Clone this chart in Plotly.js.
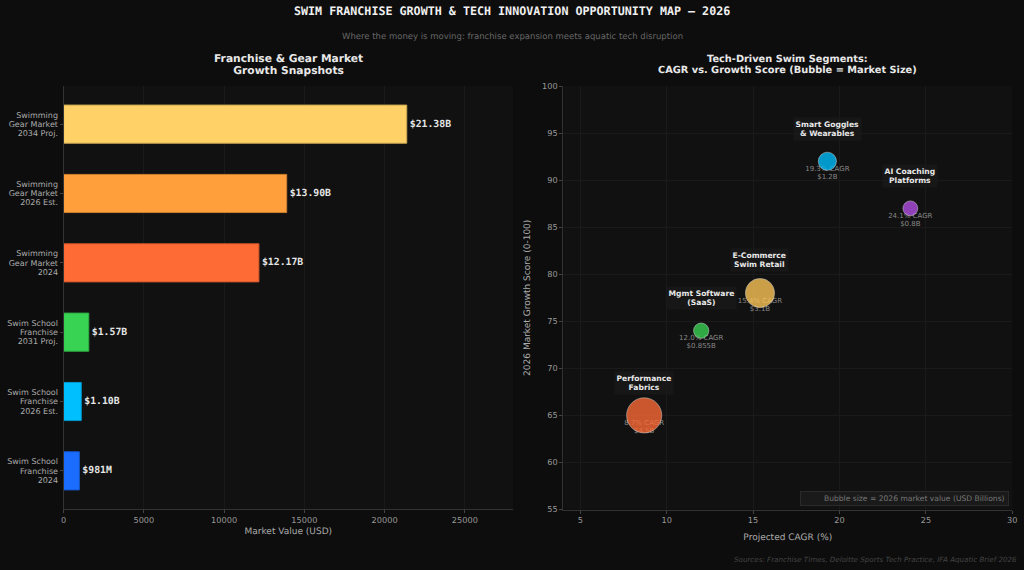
<!DOCTYPE html>
<html><head><meta charset="utf-8">
<script src="https://cdn.plot.ly/plotly-3.0.1.min.js"></script>
<style>html,body{margin:0;padding:0;background:#0d0d0d}#c{width:1024px;height:570px}svg text{text-rendering:geometricPrecision}</style>
</head><body><div id="c"></div>
<script>
// Left panel
const barLabels = ["Swim School<br>Franchise<br>2024","Swim School<br>Franchise<br>2026 Est.","Swim School<br>Franchise<br>2031 Proj.","Swimming<br>Gear Market<br>2024","Swimming<br>Gear Market<br>2026 Est.","Swimming<br>Gear Market<br>2034 Proj."];
const barValues = [981,1100,1570,12170,13900,21380];
const barText = ["$981M","$1.10B","$1.57B","$12.17B","$13.90B","$21.38B"];
const barColors = ["#1a6dff","#00bfff","#39d353","#ff6b35","#ff9f3c","#ffd166"];
const barEdges = ["#1658cc","#0099cc","#2eaa42","#cc562a","#cc7f30","#cca752"];
// Right panel
const segNames = ["Performance<br>Fabrics","Mgmt Software<br>(SaaS)","E-Commerce<br>Swim Retail","Smart Goggles<br>& Wearables","AI Coaching<br>Platforms"];
const segCagr = [8.7,12.0,15.4,19.3,24.1];
const segScore = [65,74,78,92,87];
const segSize = [4.5,0.855,3.1,1.2,0.8];
const segSizeText = ["$4.5B","$0.855B","$3.1B","$1.2B","$0.8B"];
const segColors = ["#ff6b35","#39d353","#ffc857","#00bfff","#b44fe8"];

const sans = "DejaVu Sans", mono = "DejaVu Sans Mono";
const W = 1024, H = 570;
const traces = [
 {type:"bar",orientation:"h",x:barValues,y:barLabels,width:0.55,
  marker:{color:barColors,line:{color:barEdges,width:1}},
  text:barText,textposition:"outside",cliponaxis:false,
  textfont:{family:mono,size:9.8,color:"#e6e6e6",weight:"bold"},xaxis:"x",yaxis:"y",hoverinfo:"skip"},
 {type:"scatter",mode:"text",x:segCagr,y:segScore.map(v=>v-0.42),
  text:segCagr.map((c,i)=>c.toFixed(1)+"% CAGR<br>"+segSizeText[i]),
  textposition:"bottom center",textfont:{family:sans,size:7.0,color:"#888888"},
  xaxis:"x2",yaxis:"y2",hoverinfo:"skip",cliponaxis:false},
 {type:"scatter",mode:"markers",x:segCagr,y:segScore,
  marker:{size:segSize,sizemode:"area",sizeref:2/275,color:segColors,opacity:0.78,
    line:{color:"rgba(255,255,255,0.65)",width:0.8}},
  xaxis:"x2",yaxis:"y2",hoverinfo:"skip"}
];
const axisBase = {showline:true,linecolor:"#333333",linewidth:1,gridcolor:"#1a1a1a",gridwidth:1,
  zeroline:false,ticks:"outside",ticklen:3,tickcolor:"#444444",tickwidth:1,tickformat:"d",
  tickfont:{family:sans,size:8.2,color:"#999999"}};
const layout = {
 width:W,height:H,margin:{l:0,r:0,t:0,b:0,autoexpand:false},
 paper_bgcolor:"#0d0d0d",plot_bgcolor:"#111111",showlegend:false,
 xaxis:Object.assign({},axisBase,{domain:[63.6/W,513/W],range:[0,28000],tickvals:[0,5000,10000,15000,20000,25000],
   anchor:"y",title:{text:"Market Value (USD)",font:{family:sans,size:9,color:"#aaaaaa"},standoff:3}}),
 yaxis:Object.assign({},axisBase,{domain:[1-509/H,1-86/H],type:"category",categoryorder:"array",categoryarray:barLabels,
   range:[-0.55,5.55],anchor:"x",showgrid:false,ticklen:3,tickfont:{family:sans,size:8,color:"#aaaaaa"}}),
 xaxis2:Object.assign({},axisBase,{domain:[563.3/W,1012.3/W],range:[4.02,30],tickvals:[5,10,15,20,25,30],
   anchor:"y2",title:{text:"Projected CAGR (%)",font:{family:sans,size:9,color:"#aaaaaa"},standoff:9}}),
 yaxis2:Object.assign({},axisBase,{domain:[1-509.5/H,1-86/H],range:[55,100],tickvals:[55,60,65,70,75,80,85,90,95,100],
   anchor:"x2",title:{text:"2026 Market Growth Score (0-100)",font:{family:sans,size:9,color:"#aaaaaa"},standoff:9}}),
 annotations:[
  {xref:"paper",yref:"paper",x:512/W,y:1-11/H,xanchor:"center",yanchor:"middle",showarrow:false,
   text:"<b>SWIM FRANCHISE GROWTH & TECH INNOVATION OPPORTUNITY MAP — 2026</b>",font:{family:mono,size:11.7,color:"#f0f0f0"}},
  {xref:"paper",yref:"paper",x:512/W,y:1-37/H,xanchor:"center",yanchor:"middle",showarrow:false,
   text:"Where the money is moving: franchise expansion meets aquatic tech disruption",font:{family:sans,size:8.5,color:"#666666"}},
  {xref:"paper",yref:"paper",x:288/W,y:1-64/H,xanchor:"center",yanchor:"middle",showarrow:false,
   text:"<b>Franchise & Gear Market<br>Growth Snapshots</b>",font:{family:sans,size:10.7,color:"#e8e8e8"}},
  {xref:"paper",yref:"paper",x:787.5/W,y:1-64.5/H,xanchor:"center",yanchor:"middle",showarrow:false,
   text:"<b>Tech-Driven Swim Segments:<br>CAGR vs. Growth Score (Bubble = Market Size)</b>",font:{family:sans,size:9.8,color:"#e8e8e8"}},
  {xref:"paper",yref:"paper",x:1019/W,y:1-559/H,xanchor:"right",yanchor:"middle",showarrow:false,
   text:"<i>Sources: Franchise Times, Deloitte Sports Tech Practice, IFA Aquatic Brief 2026</i>",font:{family:sans,size:7.15,color:"#444444"}},
  {xref:"paper",yref:"paper",x:1009/W,y:1-499/H,xanchor:"right",yanchor:"middle",showarrow:false,width:205,height:11,align:"right",
   text:"Bubble size = 2026 market value (USD Billions)&nbsp;",font:{family:sans,size:7.6,color:"#777777"},
   bgcolor:"#1a1a1a",bordercolor:"#2a2a2a",borderwidth:1,borderpad:1}
 ].concat(segCagr.map((c,i)=>({xref:"x2",yref:"y2",x:c,y:segScore[i]+3.48,xanchor:"center",yanchor:"middle",showarrow:false,
   text:"<b>"+segNames[i]+"</b>",font:{family:sans,size:7.6,color:"#e8e8e8"},bgcolor:"rgba(26,26,26,0.7)",borderpad:1.5})))
};
Plotly.newPlot("c",traces,layout,{displayModeBar:false,staticPlot:true}).then(()=>{
  // tighter line spacing for multi-line labels, keeping each block centred
  const s = 1.15;
  document.querySelectorAll("#c svg text").forEach(t=>{
    const lines = t.querySelectorAll("tspan.line");
    if(lines.length<2) return;
    lines.forEach((l,i)=>{ l.setAttribute("dy",(i*s+(lines.length-1)*(1.3-s)/2)+"em"); });
  });
});
</script></body></html>
